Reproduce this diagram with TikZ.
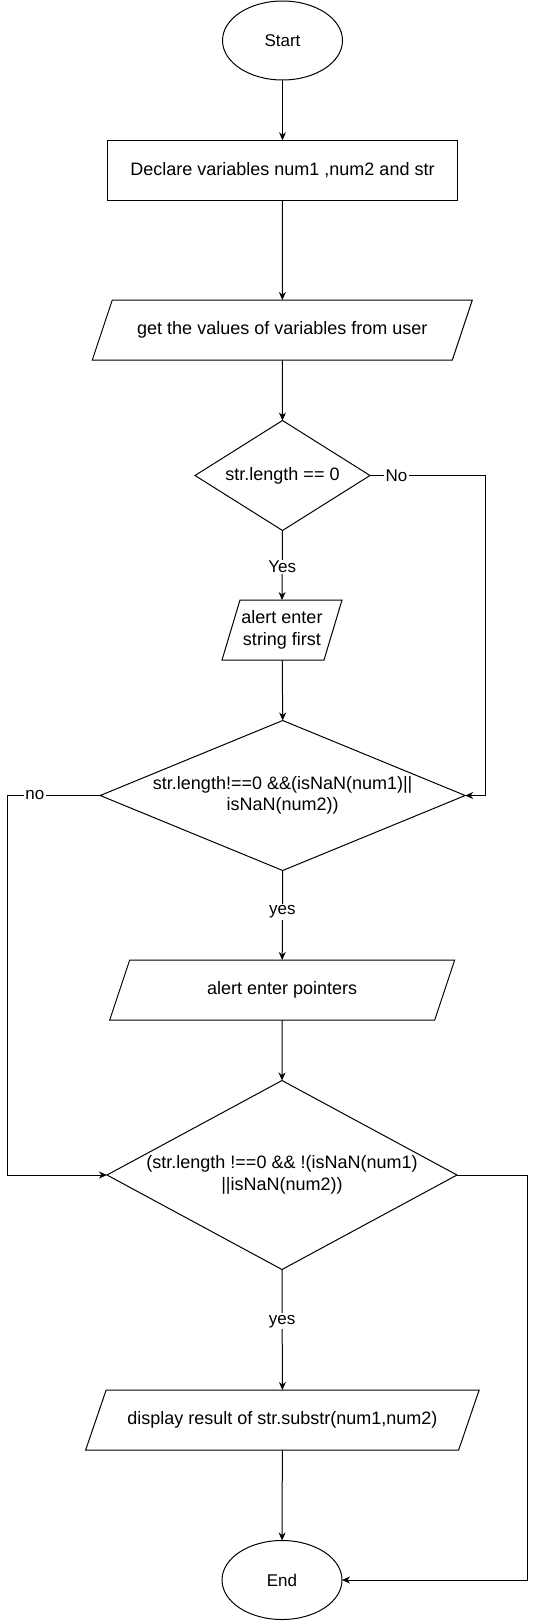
\documentclass[tikz,border=0pt]{standalone}
\usepackage{fontspec}
\setmainfont{Liberation Sans}
\usetikzlibrary{shapes.geometric,arrows.meta}
\begin{document}
\begin{tikzpicture}[x=1pt,y=-1pt,
  base/.style={draw, line width=1pt, inner sep=0pt, outer sep=0pt, align=center, font=\fontsize{18}{21.6}\selectfont},
  term/.style={base, ellipse, minimum width=120pt, minimum height=79pt, font=\fontsize{17}{20}\selectfont},
  proc/.style={base, rectangle, minimum width=350pt, minimum height=60pt},
  io/.style={base, draw=none, rectangle, minimum height=60pt},
  dec/.style={base, diamond},
  txt/.style={inner sep=0pt, align=center, font=\fontsize{18}{21.6}\selectfont},
  para/.style={draw, line width=1pt, line join=miter},
  conn/.style={draw, line width=1pt, -{Stealth[length=8pt,width=7pt,inset=2.5pt]}},
  lbl/.style={fill=white, inner sep=1.5pt, font=\fontsize{17}{20}\selectfont}
]
\useasboundingbox (0,0) rectangle (536,1621);

\node[term] (start) at (282.5,40.5) {Start};
\node[proc] (decl) at (282.5,170.3) {Declare variables num1 ,num2 and str};
\node[io, minimum width=360pt] (get) at (282.3,330) {get the values of variables from user};
\node[dec, minimum width=175pt, minimum height=110pt] (d1) at (282.5,475.5) {};
\node[txt] (d1t) at (d1) {str.length == 0};
\node[io, minimum width=102pt] (a1) at (282,630) {alert enter\\string first};
\node[dec, minimum width=365pt, minimum height=150pt] (d2) at (282.7,795.5) {};
\node[txt] (d2t) at (d2) {str.length!==0 \&\&(isNaN(num1)||\\isNaN(num2))};
\node[io, minimum width=325pt] (ptr) at (282.2,990) {alert enter pointers};
\node[dec, minimum width=350pt, minimum height=189pt] (d3) at (282,1175) {};
\node[txt] (d3t) at (d3) {(str.length !==0 \&\& !(isNaN(num1)\\||isNaN(num2))};
\node[io, minimum width=373pt] (disp) at (282.4,1420) {display result of str.substr(num1,num2)};
\node[term] (end) at (282,1580) {End};

\foreach \n/\s in {get/20, a1/18, ptr/20, disp/20.5} {
  \draw[para] ([xshift={\s*0.5pt}]\n.north west) -- ([xshift={\s*0.5pt}]\n.north east)
    -- ([xshift={-\s*0.5pt}]\n.south east) -- ([xshift={-\s*0.5pt}]\n.south west) -- cycle;
}

\coordinate (c1) at (485,475.5);
\coordinate (c3) at (7.5,795.5);
\coordinate (c4) at (527.5,1175);

\draw[conn] (start) -- (decl);
\draw[conn] (decl) -- (get);
\draw[conn] (get) -- (d1);
\draw[conn] (d1.south) -- node[lbl, pos=0.525] {Yes} (a1.north);
\draw[conn] (d1.east) -- node[lbl, pos=0.23] {No} (c1) |- (d2.east);
\draw[conn] (a1) -- (d2.north);
\draw[conn] (d2.west) -- node[lbl, pos=0.706] {no} (c3) |- (d3.west);
\draw[conn] (d2.south) -- node[lbl, pos=0.46] {yes} (ptr.north);
\draw[conn] (ptr) -- (d3.north);
\draw[conn] (d3.south) -- node[lbl, pos=0.43] {yes} (disp.north);
\draw[conn] (disp) -- (end);
\draw[conn] (d3.east) -- (c4) |- (end.east);
\end{tikzpicture}
\end{document}
